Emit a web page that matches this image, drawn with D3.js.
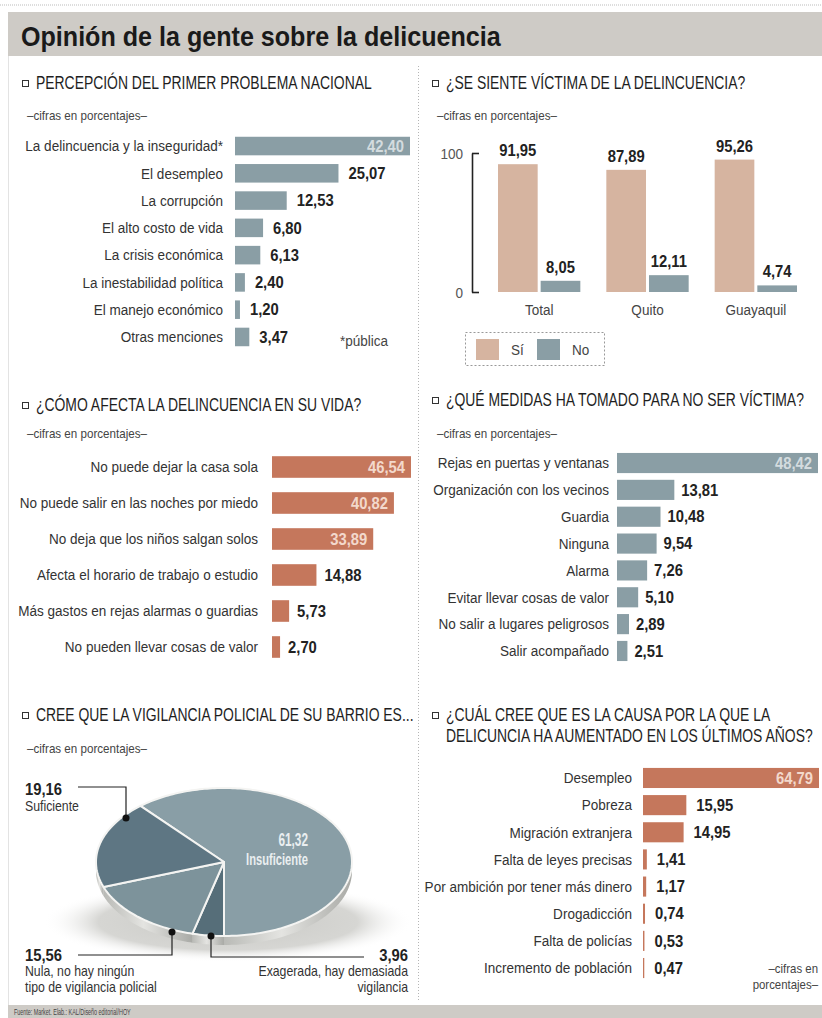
<!DOCTYPE html>
<html><head><meta charset="utf-8">
<script src="https://cdn.jsdelivr.net/npm/d3@7"></script>
<style>
body{margin:0;background:#fff;}
svg{display:block;font-family:"Liberation Sans",Arial,sans-serif;}
</style></head><body>
<svg id="c" width="822" height="1018"></svg>
<script>
// ---------- DATA ----------
const p1Cats = ["La delincuencia y la inseguridad*","El desempleo","La corrupción","El alto costo de vida","La crisis económica","La inestabilidad política","El manejo económico","Otras menciones"];
const p1Vals = [42.40,25.07,12.53,6.80,6.13,2.40,1.20,3.47];

const p2Cats = ["Total","Quito","Guayaquil"];
const p2Series = ["Sí","No"];
const p2Si = [91.95,87.89,95.26];
const p2No = [8.05,12.11,4.74];
const p2Ticks = [0,100];

const p3Cats = ["No puede dejar la casa sola","No puede salir en las noches por miedo","No deja que los niños salgan solos","Afecta el horario de trabajo o estudio","Más gastos en rejas alarmas o guardias","No pueden llevar cosas de valor"];
const p3Vals = [46.54,40.82,33.89,14.88,5.73,2.70];

const p4Cats = ["Rejas en puertas y ventanas","Organización con los vecinos","Guardia","Ninguna","Alarma","Evitar llevar cosas de valor","No salir a lugares peligrosos","Salir acompañado"];
const p4Vals = [48.42,13.81,10.48,9.54,7.26,5.10,2.89,2.51];

const p5Cats = ["Insuficiente","Exagerada, hay demasiada vigilancia","Nula, no hay ningún tipo de vigilancia policial","Suficiente"];
const p5Vals = [61.32,3.96,15.56,19.16];

const p6Cats = ["Desempleo","Pobreza","Migración extranjera","Falta de leyes precisas","Por ambición por tener más dinero","Drogadicción","Falta de policías","Incremento de población"];
const p6Vals = [64.79,15.95,14.95,1.41,1.17,0.74,0.53,0.47];

// ---------- SETUP ----------
const loc = d3.formatLocale({decimal:",",thousands:".",grouping:[3],currency:["",""]});
const fmt = loc.format(".2f");
const svg = d3.select("#c");
const SLATE = "#8a9ea5", ORANGE = "#c5775c", TAN = "#d6b4a0", DARK = "#222";

// text style groups; each is horizontally condensed to emulate the narrow newspaper face
const G = {
  title:{fs:28, fw:"bold", sample:"Opinión de la gente sobre la delicuencia", w:480, fill:"#1a1a1a"},
  head:{fs:18, fw:"normal", sample:"PERCEPCIÓN DEL PRIMER PROBLEMA NACIONAL", w:336, fill:"#1e1e1e"},
  sub:{fs:12, fw:"normal", sample:"–cifras en porcentajes–", w:120, fill:"#444"},
  label:{fs:15, fw:"normal", sample:"La delincuencia y la inseguridad*", w:198, fill:"#333"},
  value:{fs:16, fw:"bold", sample:"25,07", w:37, fill:DARK},
  pie:{fs:14, fw:"normal", sample:"tipo de vigilancia policial", w:132, fill:"#333"},
  pieIn:{fs:17, fw:"bold", sample:"Insuficiente", w:62, fill:"#e9eef0"},
  foot:{fs:9, fw:"normal", sample:"Fuente: Market. Elab.: KAL/Diseño editorial/HOY", w:117, fill:"#444"}
};
function T(parent, g, x, y, txt, anchor) {
  const s = G[g];
  return parent.append("text").attr("data-g", g).attr("x", x).attr("y", y)
    .attr("font-size", s.fs).attr("font-weight", s.fw).attr("fill", s.fill)
    .attr("text-anchor", anchor || "start").text(txt);
}

// top dotted line
svg.append("line").attr("x1",0).attr("x2",822).attr("y1",5).attr("y2",5)
  .attr("stroke","#bbb").attr("stroke-dasharray","1,1");
// title bar
svg.append("rect").attr("x",8).attr("y",12).attr("width",814).attr("height",44).attr("fill","#cecbc6");
T(svg, "title", 21, 46, "Opinión de la gente sobre la delicuencia");
// left border and separator
svg.append("line").attr("x1",8.5).attr("x2",8.5).attr("y1",56).attr("y2",1005).attr("stroke","#e3e3e3");
svg.append("line").attr("x1",418.5).attr("x2",418.5).attr("y1",66).attr("y2",1002)
  .attr("stroke","#b5b5b5").attr("stroke-dasharray","1,2");
// footer
svg.append("rect").attr("x",8).attr("y",1005).attr("width",814).attr("height",13).attr("fill","#cecbc6");
T(svg, "foot", 14, 1015, "Fuente: Market. Elab.: KAL/Diseño editorial/HOY");

function header(x, y, lines) {
  svg.append("rect").attr("x",x+0.5).attr("y",y-8.5).attr("width",6).attr("height",6)
    .attr("fill","none").attr("stroke","#333").attr("stroke-width",1);
  lines.forEach((t,i)=>T(svg, "head", x+14, y+i*21, t));
}

function hbar(cats, vals, o) {
  const g = svg.append("g");
  const x = d3.scaleLinear().domain([0, d3.max(vals)]).range([o.x0, o.x1]);
  const y = d3.scaleBand().domain(cats).range([o.y0, o.y1]).paddingInner(o.pad).paddingOuter(o.pad/2);
  const data = cats.map((c,i)=>({c, v:vals[i]}));
  data.forEach(d=>{
    const yc = y(d.c)+y.bandwidth()/2;
    g.append("rect").attr("x", x(0)).attr("y", y(d.c)).attr("width", x(d.v)-x(0))
      .attr("height", y.bandwidth()).attr("fill", o.color);
    T(g, "label", o.labelX, yc, d.c, "end").attr("dy","0.35em");
    const inside = d.v > 30;
    T(g, "value", inside ? x(d.v)-6 : x(d.v)+o.gap, yc, fmt(d.v), inside ? "end" : "start")
      .attr("dy","0.36em").attr("fill", inside ? o.inColor : DARK);
  });
  return g;
}

// ---------- PANEL 1 ----------
header(22, 89, ["PERCEPCIÓN DEL PRIMER PROBLEMA NACIONAL"]);
T(svg, "sub", 27, 120, "–cifras en porcentajes–");
hbar(p1Cats, p1Vals, {x0:235, x1:410, y0:132.4, y1:350.6, pad:0.32, color:SLATE, labelX:223, gap:10, inColor:"#d4dcdf"});
T(svg, "label", 340, 346, "*pública").attr("fill","#444");

// ---------- PANEL 2 ----------
header(432, 89, ["¿SE SIENTE VÍCTIMA DE LA DELINCUENCIA?"]);
T(svg, "sub", 437, 120, "–cifras en porcentajes–");
{
  const g = svg.append("g");
  const y = d3.scaleLinear().domain([0,100]).range([292,153]);
  const x0 = d3.scaleBand().domain(p2Cats).range([485,810]).paddingInner(0.24).paddingOuter(0.12);
  const x1 = d3.scaleBand().domain(p2Series).range([0, x0.bandwidth()]).paddingInner(0.07);
  const ax = g.append("g").attr("transform","translate(472,0)")
    .call(d3.axisLeft(y).tickValues(p2Ticks).tickSizeInner(-7).tickSizeOuter(0).tickPadding(9));
  ax.select(".domain").attr("stroke","#222").attr("stroke-width",1.6);
  ax.selectAll(".tick line").attr("stroke","#222").attr("stroke-width",1.6);
  ax.selectAll(".tick text").attr("data-g","label").attr("font-size",15).attr("fill","#555")
    .attr("font-family","inherit").attr("dy","0.35em");
  const data = [];
  p2Cats.forEach((c,i)=>{ data.push({c,s:"Sí",v:p2Si[i]}); data.push({c,s:"No",v:p2No[i]}); });
  const col = {"Sí":TAN,"No":SLATE};
  data.forEach(d=>{
    const bx = x0(d.c)+x1(d.s);
    g.append("rect").attr("x", bx).attr("width", x1.bandwidth())
      .attr("y", y(d.v)).attr("height", y(0)-y(d.v)).attr("fill", col[d.s]);
    T(g, "value", bx + x1.bandwidth()/2, y(d.v)-8, fmt(d.v), "middle");
  });
  p2Cats.forEach(c=>T(g, "label", x0(c)+x0.bandwidth()/2, 315, c, "middle").attr("fill","#444"));
  // legend
  g.append("rect").attr("x",465.5).attr("y",332.5).attr("width",139).attr("height",33)
    .attr("fill","none").attr("stroke","#999").attr("stroke-dasharray","2,2");
  const lx = [476, 537];
  p2Series.forEach((s,i)=>{
    g.append("rect").attr("x",lx[i]).attr("y",339).attr("width",23).attr("height",21).attr("fill",col[s]);
    T(g, "label", lx[i]+35, 355, s).attr("fill","#444");
  });
}

// ---------- PANEL 3 ----------
header(22, 411, ["¿CÓMO AFECTA LA DELINCUENCIA EN SU VIDA?"]);
T(svg, "sub", 27, 438, "–cifras en porcentajes–");
hbar(p3Cats, p3Vals, {x0:272, x1:411, y0:449, y1:665, pad:0.4, color:ORANGE, labelX:258, gap:8, inColor:"#f3d9cc"});

// ---------- PANEL 4 ----------
header(432, 406, ["¿QUÉ MEDIDAS HA TOMADO PARA NO SER VÍCTIMA?"]);
T(svg, "sub", 437, 438, "–cifras en porcentajes–");
hbar(p4Cats, p4Vals, {x0:617, x1:818, y0:449.6, y1:664.4, pad:0.25, color:SLATE, labelX:609, gap:7, inColor:"#d4dcdf"});

// ---------- PANEL 5 (3D pie) ----------
header(22, 721, ["CREE QUE LA VIGILANCIA POLICIAL DE SU BARRIO ES..."]);
T(svg, "sub", 27, 753, "–cifras en porcentajes–");
{
  const g = svg.append("g");
  const cx = 224, cy = 862, rx = 128, ry = 74, depth = 9;
  const defs = svg.append("defs");
  const rg = defs.append("radialGradient").attr("id","shadow");
  rg.append("stop").attr("offset","0%").attr("stop-color","#c9c9c5");
  rg.append("stop").attr("offset","70%").attr("stop-color","#d6d6d3");
  rg.append("stop").attr("offset","100%").attr("stop-color","#fff").attr("stop-opacity",0);
  const sg = defs.append("linearGradient").attr("id","side").attr("x1","0").attr("x2","1");
  sg.append("stop").attr("offset","0%").attr("stop-color","#b9bab6");
  sg.append("stop").attr("offset","45%").attr("stop-color","#e4e4e1");
  sg.append("stop").attr("offset","100%").attr("stop-color","#a9aaa6");
  g.append("ellipse").attr("cx",228).attr("cy",922).attr("rx",185).attr("ry",40).attr("fill","url(#shadow)");

  const total = d3.sum(p5Vals);
  const start = Math.PI - 2*Math.PI*p5Vals[0]/total;
  const pie = d3.pie().sort(null).startAngle(start).endAngle(start+2*Math.PI);
  const arcs = pie(p5Vals);
  const colors = ["#899ea6","#566e79","#7d939b","#5e7683"];
  const pt = (a, dy=0) => [cx + rx*Math.sin(a), cy - ry*Math.cos(a) + dy];
  const line = d3.line();
  function pts(a0, a1, dy) {
    const n = Math.max(2, Math.ceil((a1-a0)/0.02));
    return d3.range(n+1).map(i => pt(a0 + (a1-a0)*i/n, dy));
  }
  // side walls on the front half (angles between π/2 and 3π/2, also shifted by ±2π)
  arcs.forEach(a=>{
    [-2*Math.PI, 0, 2*Math.PI].forEach(off=>{
      const L = Math.PI/2 + off, H = 3*Math.PI/2 + off;
      const a0 = Math.max(a.startAngle, L), a1 = Math.min(a.endAngle, H);
      if (a1 > a0) {
        const top = pts(a0,a1,0), bot = pts(a0,a1,depth).reverse();
        g.append("path").attr("d", line(top.concat(bot))+"Z").attr("fill","url(#side)");
      }
    });
  });
  // top faces
  arcs.forEach((a,i)=>{
    const p = [[cx,cy]].concat(pts(a.startAngle, a.endAngle, 0));
    g.append("path").attr("d", line(p)+"Z").attr("fill", colors[i])
      .attr("stroke","#f4f4f2").attr("stroke-width",2).attr("stroke-linejoin","round");
  });
  // inner label
  T(g, "pieIn", 308, 846, fmt(p5Vals[0]), "end").attr("font-size",18);
  T(g, "pieIn", 308, 865, p5Cats[0], "end");

  const lead = (pts2, dot) => {
    g.append("path").attr("d", line(pts2)).attr("fill","none").attr("stroke","#222").attr("stroke-width",1.2);
    g.append("circle").attr("cx",dot[0]).attr("cy",dot[1]).attr("r",3.5).attr("fill","#111");
  };
  // Suficiente
  lead([[78,787],[126,787],[126,818]], [126,818]);
  T(g, "value", 25, 795, fmt(p5Vals[3]));
  T(g, "pie", 25, 811, p5Cats[3]);
  // Nula
  lead([[78,955],[172,955],[172,932]], [172,932]);
  T(g, "value", 25, 961, fmt(p5Vals[2]));
  T(g, "pie", 25, 976, "Nula, no hay ningún");
  T(g, "pie", 25, 992, "tipo de vigilancia policial");
  // Exagerada
  lead([[211,936],[211,957],[364,957]], [211,936]);
  T(g, "value", 408, 961, fmt(p5Vals[1]), "end");
  T(g, "pie", 408, 976, "Exagerada, hay demasiada", "end");
  T(g, "pie", 408, 992, "vigilancia", "end");
}

// ---------- PANEL 6 ----------
header(432, 721, ["¿CUÁL CREE QUE ES LA CAUSA POR LA QUE LA","DELICUNCIA HA AUMENTADO EN LOS ÚLTIMOS AÑOS?"]);
hbar(p6Cats, p6Vals, {x0:643, x1:819, y0:764.4, y1:981.6, pad:0.26, color:ORANGE, labelX:632, gap:10, inColor:"#f3d9cc"});
T(svg, "pie", 818, 973, "–cifras en", "end").attr("font-size",13).attr("fill","#444");
T(svg, "pie", 818, 989, "porcentajes–", "end").attr("font-size",13).attr("fill","#444");

// ---------- condense text per style group (horizontal scale about each text's anchor) ----------
const K = {};
Object.keys(G).forEach(k=>{
  const s = G[k];
  const n = svg.append("text").attr("font-size",s.fs).attr("font-weight",s.fw).text(s.sample);
  K[k] = s.w / n.node().getComputedTextLength();
  n.remove();
});
svg.selectAll("text[data-g]").each(function(){
  const k = K[this.getAttribute("data-g")];
  const x = +(this.getAttribute("x") || 0);
  this.setAttribute("x", (x/k).toFixed(3));
  const t = this.getAttribute("transform");
  this.setAttribute("transform", (t ? t + " " : "") + "scale(" + k.toFixed(4) + ",1)");
});
</script>
</body></html>
